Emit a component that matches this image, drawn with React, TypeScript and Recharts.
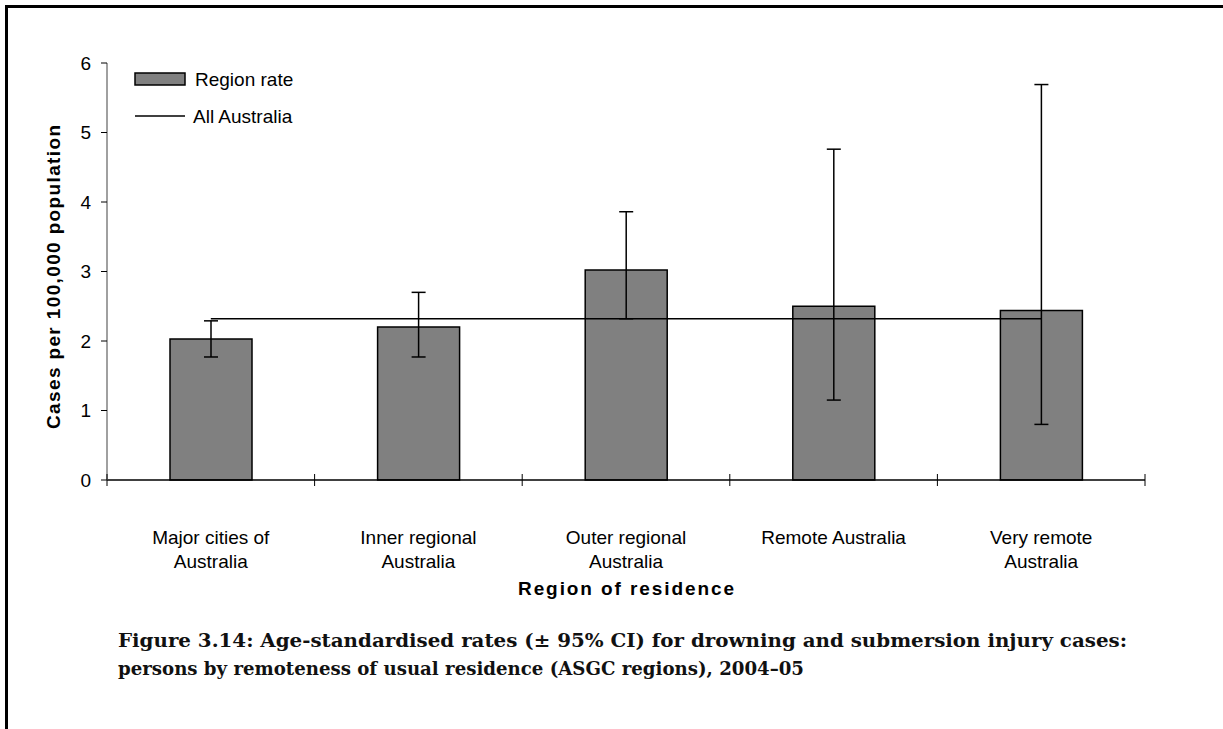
import {
  Bar,
  ComposedChart,
  ErrorBar,
  Legend,
  Line,
  XAxis,
  YAxis,
} from "recharts";

const regions = [
  "Major cities of Australia",
  "Inner regional Australia",
  "Outer regional Australia",
  "Remote Australia",
  "Very remote Australia",
];
const regionLabelLines = [
  ["Major cities of", "Australia"],
  ["Inner regional", "Australia"],
  ["Outer regional", "Australia"],
  ["Remote Australia"],
  ["Very remote", "Australia"],
];
const regionRate = [2.03, 2.2, 3.02, 2.5, 2.44];
const ciLower = [1.77, 1.77, 2.32, 1.15, 0.8];
const ciUpper = [2.29, 2.7, 3.86, 4.76, 5.69];
const allAustraliaRate = 2.32;
const yTicks = [0, 1, 2, 3, 4, 5, 6];

const chartData = regions.map((region, i) => ({
  region,
  rate: regionRate[i],
  ci: [regionRate[i] - ciLower[i], ciUpper[i] - regionRate[i]],
  all: allAustraliaRate,
}));

const SANS = "'Liberation Sans', Arial, sans-serif";
const SERIF = "'DejaVu Serif', serif";

const RegionTick = (props: any) => {
  const { x, y, payload, index } = props;
  const half = payload?.offset ?? 0;
  const lines = regionLabelLines[index] || [];
  return (
    <g>
      <line x1={x - half} x2={x - half} y1={y - 6} y2={y + 6} stroke="#000" />
      {index === regions.length - 1 && (
        <line x1={x + half} x2={x + half} y1={y - 6} y2={y + 6} stroke="#000" />
      )}
      <text
        x={x}
        y={y + 64}
        textAnchor="middle"
        fontSize={19}
        fontFamily={SANS}
        fill="#000"
      >
        {lines.map((l, k) => (
          <tspan key={k} x={x} dy={k === 0 ? 0 : 24}>
            {l}
          </tspan>
        ))}
      </text>
    </g>
  );
};

const LegendBox = () => (
  <svg width={200} height={70} style={{ display: "block" }}>
    <rect x={5} y={7} width={50} height={12} fill="#808080" stroke="#000" strokeWidth={1.5} />
    <text x={65} y={20} fontSize={19} fontFamily={SANS} fill="#000">
      Region rate
    </text>
    <line x1={5} x2={55} y1={50} y2={50} stroke="#000" strokeWidth={1.5} />
    <text x={63} y={57} fontSize={19} fontFamily={SANS} fill="#000">
      All Australia
    </text>
  </svg>
);

export default function App() {
  return (
    <div
      style={{
        position: "absolute",
        left: 0,
        top: 0,
        width: 1223,
        height: 729,
        background: "#fff",
        overflow: "hidden",
      }}
    >
      <div style={{ position: "absolute", left: 0, top: 0 }}>
        <ComposedChart
          width={1223}
          height={620}
          data={chartData}
          margin={{ top: 63, right: 78, bottom: 80, left: 57 }}
        >
          <XAxis
            dataKey="region"
            height={60}
            axisLine={{ stroke: "#000", strokeWidth: 1.5 }}
            tickLine={false}
            tickSize={0}
            tickMargin={0}
            interval={0}
            tick={<RegionTick />}
          />
          <YAxis
            width={50}
            domain={[0, 6]}
            ticks={yTicks}
            interval={0}
            axisLine={{ stroke: "#808080", strokeWidth: 1.5 }}
            tickLine={{ stroke: "#000" }}
            tickSize={6}
            tickMargin={10}
            tick={{ fontSize: 19, fontFamily: SANS, fill: "#000" }}
          />
          <Legend
            layout="vertical"
            verticalAlign="middle"
            align="center"
            wrapperStyle={{ left: 130, top: 66, width: 200, height: 70 }}
            content={() => <LegendBox />}
          />
          <Bar
            dataKey="rate"
            name="Region rate"
            barSize={82}
            fill="#808080"
            stroke="#000"
            strokeWidth={1.5}
            isAnimationActive={false}
          >
            <ErrorBar
              dataKey="ci"
              width={7}
              stroke="#000"
              strokeWidth={1.5}
              isAnimationActive={false}
            />
          </Bar>
          <Line
            type="linear"
            dataKey="all"
            name="All Australia"
            stroke="#000"
            strokeWidth={1.5}
            dot={false}
            activeDot={false}
            isAnimationActive={false}
          />
        </ComposedChart>
      </div>
      <svg
        width={1223}
        height={729}
        style={{ position: "absolute", left: 0, top: 0, pointerEvents: "none" }}
      >
        <line x1={6.5} x2={1223} y1={6.5} y2={6.5} stroke="#000" strokeWidth={3} />
        <line x1={6.5} x2={6.5} y1={5} y2={729} stroke="#000" strokeWidth={3} />
        <text
          transform="translate(60, 277) rotate(-90)"
          textAnchor="middle"
          fontSize={19}
          fontWeight="bold"
          fontFamily={SANS}
          textLength={304}
          lengthAdjust="spacing"
          fill="#000"
        >
          Cases per 100,000 population
        </text>
        <text
          x={626}
          y={595}
          textAnchor="middle"
          fontSize={19}
          fontWeight="bold"
          fontFamily={SANS}
          textLength={216}
          lengthAdjust="spacing"
          fill="#000"
        >
          Region of residence
        </text>
        <text
          x={118}
          y={647}
          fontSize={18}
          fontWeight="bold"
          fontFamily={SERIF}
          textLength={1009}
          lengthAdjust="spacingAndGlyphs"
          fill="#111"
        >
          Figure 3.14: Age-standardised rates (± 95% CI) for drowning and submersion injury cases:
        </text>
        <text
          x={118}
          y={675}
          fontSize={18}
          fontWeight="bold"
          fontFamily={SERIF}
          textLength={686}
          lengthAdjust="spacingAndGlyphs"
          fill="#111"
        >
          persons by remoteness of usual residence (ASGC regions), 2004–05
        </text>
      </svg>
    </div>
  );
}
